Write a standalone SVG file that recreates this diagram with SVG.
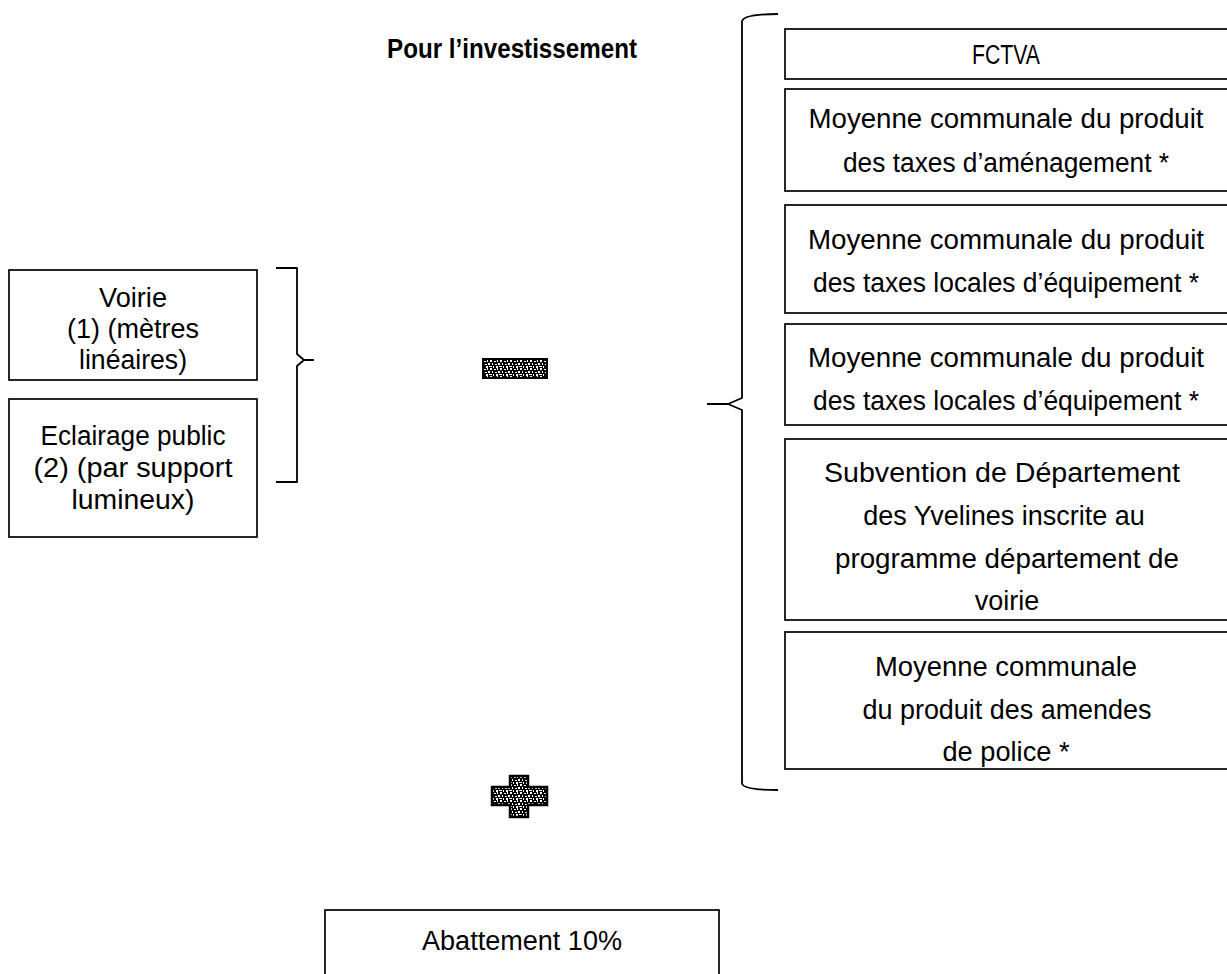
<svg xmlns="http://www.w3.org/2000/svg" width="1227" height="974" viewBox="0 0 1227 974">
<defs>
<style>
.box{fill:#fff;stroke:#000;stroke-width:1.7}
.t{font-family:"Liberation Sans",Arial,sans-serif;font-size:27px;fill:#000;text-anchor:middle}
.b{font-weight:bold}
.br{fill:none;stroke:#000;stroke-width:1.8;stroke-linejoin:round}
</style>
<pattern id="noise" width="10" height="8" patternUnits="userSpaceOnUse">
<rect width="10" height="8" fill="#000"/>
<rect x="0" y="0" width="2" height="2" fill="#fff"/>
<rect x="4" y="1" width="2" height="1" fill="#fff"/>
<rect x="7" y="0" width="1" height="2" fill="#fff"/>
<rect x="2" y="3" width="1" height="2" fill="#fff"/>
<rect x="5" y="4" width="2" height="1" fill="#fff"/>
<rect x="8" y="3" width="2" height="2" fill="#fff"/>
<rect x="0" y="6" width="2" height="1" fill="#fff"/>
<rect x="3" y="6" width="1" height="2" fill="#fff"/>
<rect x="6" y="6" width="2" height="2" fill="#fff"/>
<rect x="9" y="6" width="1" height="1" fill="#fff"/>
</pattern>
</defs>
<rect width="1227" height="974" fill="#fff"/>

<g id="title"><text class="t b" x="512" y="58" textLength="250" lengthAdjust="spacingAndGlyphs">Pour l’investissement</text></g>

<g id="voirie">
<rect class="box" x="9" y="270" width="248" height="110"/>
<text class="t" x="133" y="307" textLength="68" lengthAdjust="spacingAndGlyphs">Voirie</text>
<text class="t" x="133" y="338" textLength="132" lengthAdjust="spacingAndGlyphs">(1) (mètres</text>
<text class="t" x="133" y="369" textLength="108" lengthAdjust="spacingAndGlyphs">linéaires)</text>
</g>
<g id="eclairage">
<rect class="box" x="9" y="399" width="248" height="138"/>
<text class="t" x="133" y="445" textLength="185" lengthAdjust="spacingAndGlyphs">Eclairage public</text>
<text class="t" x="133" y="477" textLength="199" lengthAdjust="spacingAndGlyphs">(2) (par support</text>
<text class="t" x="133" y="509" textLength="123" lengthAdjust="spacingAndGlyphs">lumineux)</text>
</g>

<g id="minus"><rect x="483" y="359" width="64" height="19" fill="url(#noise)" stroke="#000" stroke-width="2"/></g>
<g id="plus"><path d="M510,776 H528 V787 H547 V805 H528 V817 H510 V805 H492 V787 H510 Z" fill="url(#noise)" stroke="#000" stroke-width="2.5"/></g>

<g id="fctva">
<rect class="box" x="785" y="29" width="450" height="50"/>
<text class="t" x="1006" y="64" textLength="68" lengthAdjust="spacingAndGlyphs">FCTVA</text>
</g>
<g id="amenagement">
<rect class="box" x="785" y="89" width="450" height="102"/>
<text class="t" x="1006" y="128" textLength="395" lengthAdjust="spacingAndGlyphs">Moyenne communale du produit</text>
<text class="t" x="1006" y="172" textLength="326" lengthAdjust="spacingAndGlyphs">des taxes d’aménagement *</text>
</g>
<g id="tle1">
<rect class="box" x="785" y="205" width="450" height="108"/>
<text class="t" x="1006" y="249" textLength="396" lengthAdjust="spacingAndGlyphs">Moyenne communale du produit</text>
<text class="t" x="1006" y="292" textLength="386" lengthAdjust="spacingAndGlyphs">des taxes locales d’équipement *</text>
</g>
<g id="tle2">
<rect class="box" x="785" y="324" width="450" height="101"/>
<text class="t" x="1006" y="367" textLength="396" lengthAdjust="spacingAndGlyphs">Moyenne communale du produit</text>
<text class="t" x="1006" y="410" textLength="386" lengthAdjust="spacingAndGlyphs">des taxes locales d’équipement *</text>
</g>
<g id="subvention">
<rect class="box" x="785" y="439" width="450" height="181"/>
<text class="t" x="1002" y="482" textLength="356" lengthAdjust="spacingAndGlyphs">Subvention de Département</text>
<text class="t" x="1004" y="525">des Yvelines inscrite au</text>
<text class="t" x="1007" y="568" textLength="344" lengthAdjust="spacingAndGlyphs">programme département de</text>
<text class="t" x="1007" y="610">voirie</text>
</g>
<g id="amendes">
<rect class="box" x="785" y="632" width="450" height="137"/>
<text class="t" x="1006" y="676" textLength="262" lengthAdjust="spacingAndGlyphs">Moyenne communale</text>
<text class="t" x="1007" y="719" textLength="289" lengthAdjust="spacingAndGlyphs">du produit des amendes</text>
<text class="t" x="1006" y="761" textLength="127" lengthAdjust="spacingAndGlyphs">de police *</text>
</g>
<g id="abattement">
<rect class="box" x="325" y="910" width="394" height="80"/>
<text class="t" x="522" y="950" textLength="200" lengthAdjust="spacingAndGlyphs">Abattement 10%</text>
</g>

<g id="connectors">
<path class="br" d="M276,268 H297 V354 L304,360 H314 M304,360 L297,366 V482 H276"/>
<path class="br" d="M778,14 Q742,14 742,22 V398 L728,404 H707 M728,404 L742,410 V783 Q742,790 778,790"/>
</g>
</svg>
